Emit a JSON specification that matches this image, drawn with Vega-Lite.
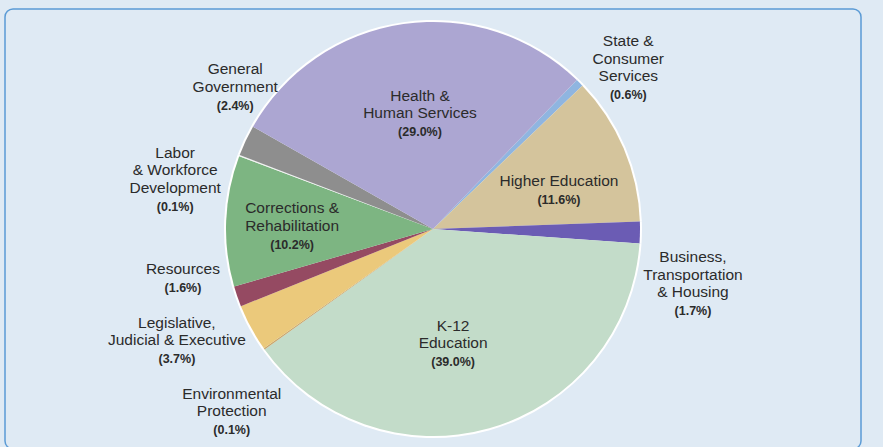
{
  "$schema": "https://vega.github.io/schema/vega-lite/v6.json",
  "width": 856,
  "height": 440,
  "autosize": {"type": "none"},
  "padding": {"left": 5, "top": 9, "right": 22, "bottom": 0},
  "background": "#dfeaf4",
  "view": {"fill": "#dfeaf4", "stroke": "#5b9bd5", "strokeWidth": 1.5, "cornerRadius": 8},
  "config": {
    "view": {"fill": "#dfeaf4", "stroke": "#5b9bd5", "strokeWidth": 1.5, "cornerRadius": 8},
    "text": {"font": "Liberation Sans", "color": "#2b2b2b", "align": "center", "baseline": "middle"}
  },
  "data": {
    "values": [
      {"ord": 1, "id": "state", "cat": "State & Consumer Services", "pct": 0.6, "name": ["State &", "Consumer", "Services"], "share": "(0.6%)"},
      {"ord": 2, "id": "higher", "cat": "Higher Education", "pct": 11.6, "name": ["Higher Education"], "share": "(11.6%)"},
      {"ord": 3, "id": "business", "cat": "Business, Transportation & Housing", "pct": 1.7, "name": ["Business,", "Transportation", "& Housing"], "share": "(1.7%)"},
      {"ord": 4, "id": "k12", "cat": "K-12 Education", "pct": 39.0, "name": ["K-12", "Education"], "share": "(39.0%)"},
      {"ord": 5, "id": "env", "cat": "Environmental Protection", "pct": 0.1, "name": ["Environmental", "Protection"], "share": "(0.1%)"},
      {"ord": 6, "id": "leg", "cat": "Legislative, Judicial & Executive", "pct": 3.7, "name": ["Legislative,", "Judicial & Executive"], "share": "(3.7%)"},
      {"ord": 7, "id": "res", "cat": "Resources", "pct": 1.6, "name": ["Resources"], "share": "(1.6%)"},
      {"ord": 8, "id": "corr", "cat": "Corrections & Rehabilitation", "pct": 10.2, "name": ["Corrections &", "Rehabilitation"], "share": "(10.2%)"},
      {"ord": 9, "id": "labor", "cat": "Labor & Workforce Development", "pct": 0.1, "name": ["Labor", "& Workforce", "Development"], "share": "(0.1%)"},
      {"ord": 10, "id": "gen", "cat": "General Government", "pct": 2.4, "name": ["General", "Government"], "share": "(2.4%)"},
      {"ord": 11, "id": "health", "cat": "Health & Human Services", "pct": 29.0, "name": ["Health &", "Human Services"], "share": "(29.0%)"}
    ]
  },
  "encoding": {
    "theta": {"field": "pct", "type": "quantitative", "stack": true, "scale": {"domain": [0, 100], "range": [0.768, 7.051]}},
    "order": {"field": "ord", "type": "quantitative"}
  },
  "layer": [
    {"mark": {"type": "arc", "radius": 209, "fill": "#ffffff"}},
    {
      "mark": {"type": "arc", "radius": 207},
      "encoding": {
        "color": {
          "field": "cat", "type": "nominal", "legend": null,
          "scale": {
            "domain": ["State & Consumer Services", "Higher Education", "Business, Transportation & Housing", "K-12 Education", "Environmental Protection", "Legislative, Judicial & Executive", "Resources", "Corrections & Rehabilitation", "Labor & Workforce Development", "General Government", "Health & Human Services"],
            "range": ["#8fb5e0", "#d4c49c", "#6b5cb4", "#c3dcc9", "#c9a66c", "#ebc97b", "#954a62", "#7db582", "#f2f2f2", "#8e8e8e", "#aca6d2"]
          }
        }
      }
    },
    {"layer": [
      {"mark": {"type": "text", "radius": 232, "dx": 31, "dy": -24, "fontSize": 15.5, "lineHeight": 17.5}, "encoding": {"text": {"condition": {"test": "datum.id === 'state'", "field": "name", "type": "nominal"}, "value": ""}}},
      {"mark": {"type": "text", "radius": 232, "dx": 31, "dy": 30, "fontSize": 12.5, "fontWeight": "bold"}, "encoding": {"text": {"condition": {"test": "datum.id === 'state'", "field": "share", "type": "nominal"}, "value": ""}}}
    ]},
    {"layer": [
      {"mark": {"type": "text", "radius": 127, "dx": 9, "dy": 2, "fontSize": 15.5, "lineHeight": 17.5}, "encoding": {"text": {"condition": {"test": "datum.id === 'higher'", "field": "name", "type": "nominal"}, "value": ""}}},
      {"mark": {"type": "text", "radius": 127, "dx": 9, "dy": 21, "fontSize": 12.5, "fontWeight": "bold"}, "encoding": {"text": {"condition": {"test": "datum.id === 'higher'", "field": "share", "type": "nominal"}, "value": ""}}}
    ]},
    {"layer": [
      {"mark": {"type": "text", "radius": 261, "dx": -1, "dy": 24, "fontSize": 15.5, "lineHeight": 17.5}, "encoding": {"text": {"condition": {"test": "datum.id === 'business'", "field": "name", "type": "nominal"}, "value": ""}}},
      {"mark": {"type": "text", "radius": 261, "dx": -1, "dy": 78, "fontSize": 12.5, "fontWeight": "bold"}, "encoding": {"text": {"condition": {"test": "datum.id === 'business'", "field": "share", "type": "nominal"}, "value": ""}}}
    ]},
    {"layer": [
      {"mark": {"type": "text", "radius": 133, "dx": -16, "dy": -31.5, "fontSize": 15.5, "lineHeight": 17.5}, "encoding": {"text": {"condition": {"test": "datum.id === 'k12'", "field": "name", "type": "nominal"}, "value": ""}}},
      {"mark": {"type": "text", "radius": 133, "dx": -16, "dy": 5, "fontSize": 12.5, "fontWeight": "bold"}, "encoding": {"text": {"condition": {"test": "datum.id === 'k12'", "field": "share", "type": "nominal"}, "value": ""}}}
    ]},
    {"layer": [
      {"mark": {"type": "text", "radius": 280, "dx": 27, "dy": 2.5, "fontSize": 15.5, "lineHeight": 17.5}, "encoding": {"text": {"condition": {"test": "datum.id === 'env'", "field": "name", "type": "nominal"}, "value": ""}}},
      {"mark": {"type": "text", "radius": 280, "dx": 27, "dy": 39, "fontSize": 12.5, "fontWeight": "bold"}, "encoding": {"text": {"condition": {"test": "datum.id === 'env'", "field": "share", "type": "nominal"}, "value": ""}}}
    ]},
    {"layer": [
      {"mark": {"type": "text", "radius": 287, "dx": -4, "dy": -43.5, "fontSize": 15.5, "lineHeight": 17.5}, "encoding": {"text": {"condition": {"test": "datum.id === 'leg'", "field": "name", "type": "nominal"}, "value": ""}}},
      {"mark": {"type": "text", "radius": 287, "dx": -4, "dy": -7, "fontSize": 12.5, "fontWeight": "bold"}, "encoding": {"text": {"condition": {"test": "datum.id === 'leg'", "field": "share", "type": "nominal"}, "value": ""}}}
    ]},
    {"layer": [
      {"mark": {"type": "text", "radius": 256, "dx": -8, "dy": -43, "fontSize": 15.5, "lineHeight": 17.5}, "encoding": {"text": {"condition": {"test": "datum.id === 'res'", "field": "name", "type": "nominal"}, "value": ""}}},
      {"mark": {"type": "text", "radius": 256, "dx": -8, "dy": -24, "fontSize": 12.5, "fontWeight": "bold"}, "encoding": {"text": {"condition": {"test": "datum.id === 'res'", "field": "share", "type": "nominal"}, "value": ""}}}
    ]},
    {"layer": [
      {"mark": {"type": "text", "radius": 140, "dx": -1, "dy": -15.5, "fontSize": 15.5, "lineHeight": 17.5}, "encoding": {"text": {"condition": {"test": "datum.id === 'corr'", "field": "name", "type": "nominal"}, "value": ""}}},
      {"mark": {"type": "text", "radius": 140, "dx": -1, "dy": 21, "fontSize": 12.5, "fontWeight": "bold"}, "encoding": {"text": {"condition": {"test": "datum.id === 'corr'", "field": "share", "type": "nominal"}, "value": ""}}}
    ]},
    {"layer": [
      {"mark": {"type": "text", "radius": 249, "dx": -25, "dy": 12, "fontSize": 15.5, "lineHeight": 17.5}, "encoding": {"text": {"condition": {"test": "datum.id === 'labor'", "field": "name", "type": "nominal"}, "value": ""}}},
      {"mark": {"type": "text", "radius": 249, "dx": -25, "dy": 66, "fontSize": 12.5, "fontWeight": "bold"}, "encoding": {"text": {"condition": {"test": "datum.id === 'labor'", "field": "share", "type": "nominal"}, "value": ""}}}
    ]},
    {"layer": [
      {"mark": {"type": "text", "radius": 232, "dx": 12, "dy": -60.5, "fontSize": 15.5, "lineHeight": 17.5}, "encoding": {"text": {"condition": {"test": "datum.id === 'gen'", "field": "name", "type": "nominal"}, "value": ""}}},
      {"mark": {"type": "text", "radius": 232, "dx": 12, "dy": -24, "fontSize": 12.5, "fontWeight": "bold"}, "encoding": {"text": {"condition": {"test": "datum.id === 'gen'", "field": "share", "type": "nominal"}, "value": ""}}}
    ]},
    {"layer": [
      {"mark": {"type": "text", "radius": 98, "dx": 1, "dy": -36.5, "fontSize": 15.5, "lineHeight": 17.5}, "encoding": {"text": {"condition": {"test": "datum.id === 'health'", "field": "name", "type": "nominal"}, "value": ""}}},
      {"mark": {"type": "text", "radius": 98, "dx": 1, "dy": 0, "fontSize": 12.5, "fontWeight": "bold"}, "encoding": {"text": {"condition": {"test": "datum.id === 'health'", "field": "share", "type": "nominal"}, "value": ""}}}
    ]}
  ]
}
